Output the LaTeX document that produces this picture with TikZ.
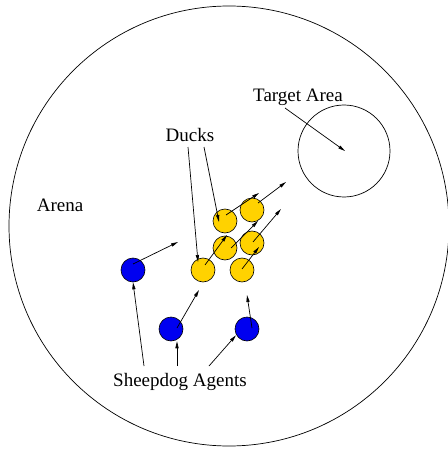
\documentclass[tikz,border=0pt]{standalone}
\usepackage{fontspec}
\setmainfont{Liberation Serif}
\usetikzlibrary{arrows.meta}
\begin{document}
\begin{tikzpicture}[x=1pt,y=-1pt,
  line width=0.7pt,
  vec/.style={-{Triangle[length=7pt,width=3.2pt]}},
  duck/.style={circle,draw=black,fill=duckgold,minimum size=24pt,inner sep=0pt,line width=0.6pt},
  dog/.style={circle,draw=black,fill=dogblue,minimum size=24pt,inner sep=0pt,line width=0.6pt},
  lbl/.style={font=\fontsize{19}{22}\selectfont,inner sep=0pt}]
\definecolor{duckgold}{HTML}{FFD200}
\definecolor{dogblue}{HTML}{0000F0}
\useasboundingbox (0,0) rectangle (447,449);

% arena and target area
\node[circle,draw,minimum size=440pt,inner sep=0pt] (arena) at (229,226) {};
\node[circle,draw,minimum size=92pt,inner sep=0pt] (target) at (344,151) {};

% labels
\node[lbl] (tlab) at (298,97) {Target Area};
\node[lbl] (dlab) at (190,135) {Ducks};
\node[lbl] (alab) at (60,205) {Arena};
\node[lbl] (slab) at (180,382) {Sheepdog Agents};

% ducks
\node[duck] (d1) at (203,270) {};
\node[duck] (d2) at (242,270) {};
\node[duck] (d3) at (225,248) {};
\node[duck] (d4) at (252,243) {};
\node[duck] (d5) at (225,221) {};
\node[duck] (d6) at (252,210) {};

% sheepdogs
\node[dog] (b1) at (133,270) {};
\node[dog] (b2) at (171,329) {};
\node[dog] (b3) at (247,329) {};

% velocity vectors
\coordinate (v1) at (178,242);
\coordinate (v2) at (199,290);
\coordinate (v3) at (247,295);
\coordinate (vd1) at (227,235);
\coordinate (vd2) at (259,247);
\coordinate (vd3) at (258,221);
\coordinate (vd4) at (281,209);
\coordinate (vd5) at (259,193);
\coordinate (vd6) at (286,182);
\draw[vec] ([shift={(0,-6)}]b1.center) -- (v1);
\draw[vec] ([shift={(6,-1)}]b2.center) -- (v2);
\draw[vec] ([shift={(5,-1)}]b3.center) -- (v3);
\draw[vec] ([shift={(2,-5)}]d1.center) -- (vd1);
\draw[vec] ([shift={(0,-1)}]d2.center) -- (vd2);
\draw[vec] ([shift={(6,0)}]d3.center) -- (vd3);
\draw[vec] ([shift={(1,-1)}]d4.center) -- (vd4);
\draw[vec] ([shift={(1,-6)}]d5.center) -- (vd5);
\draw[vec] ([shift={(6,-7)}]d6.center) -- (vd6);

% label pointers
\coordinate (tp) at (345,151);
\draw[vec] ([shift={(-13,11)}]tlab.center) -- (tp);
\draw[vec] ([shift={(-2,12)}]dlab.center) -- ([shift={(-5,-8)}]d1.center);
\draw[vec] ([shift={(14,12)}]dlab.center) -- ([shift={(-6,1)}]d5.center);
\draw[vec] ([shift={(-36,-16)}]slab.center) -- (b1.south);
\draw[vec] ([shift={(-3,-16)}]slab.center) -- ([shift={(6,0)}]b2.south);
\draw[vec] ([shift={(29,-16)}]slab.center) -- ([shift={(-11,-6)}]b3.south);
\end{tikzpicture}
\end{document}
